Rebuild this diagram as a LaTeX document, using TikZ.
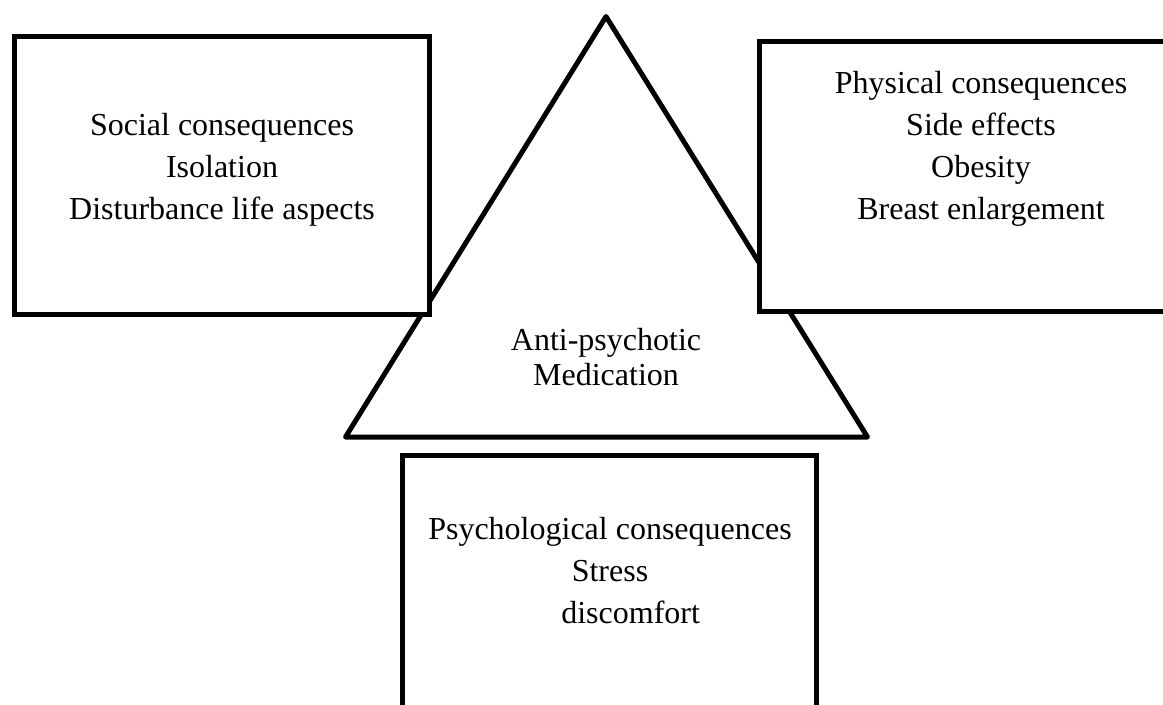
\documentclass[tikz,border=0pt]{standalone}
\usepackage{fontspec}
\setmainfont{Liberation Serif}
\begin{document}
\begin{tikzpicture}[x=0.75pt,y=-0.75pt,
  shapeline/.style={draw=black,line width=3.75pt},
  boxshape/.style={shapeline,fill=white,line join=miter},
  label/.style={font=\fontsize{24pt}{31.5pt}\selectfont,align=center,inner sep=0pt}]
\useasboundingbox (0,0) rectangle (1163,704);
% triangle
\coordinate (apex) at (606,16.5);
\coordinate (bl) at (345.5,437);
\coordinate (br) at (867.5,437);
\draw[shapeline,line join=round] (apex) -- (bl) -- (br) -- cycle;
% boxes
\draw[boxshape] (14.5,36.5) rectangle (429,314.5) coordinate (socialbox);
\draw[boxshape] (759.5,41.5) rectangle (1220,311.5);
\draw[boxshape] (402,455.5) rectangle (816,730);
% texts
\node[label] (social) at (222,170) {Social consequences\\Isolation\\Disturbance life aspects};
\node[label] (physical) at (981,149) {Physical consequences\\Side effects\\Obesity\\Breast enlargement};
\node[label,font=\fontsize{24pt}{26pt}\selectfont] (med) at (606,357) {Anti-psychotic\\Medication};
\node[label] (psych) at (610,571) {Psychological consequences\\Stress\\\hspace*{31pt}discomfort};
\end{tikzpicture}
\end{document}
